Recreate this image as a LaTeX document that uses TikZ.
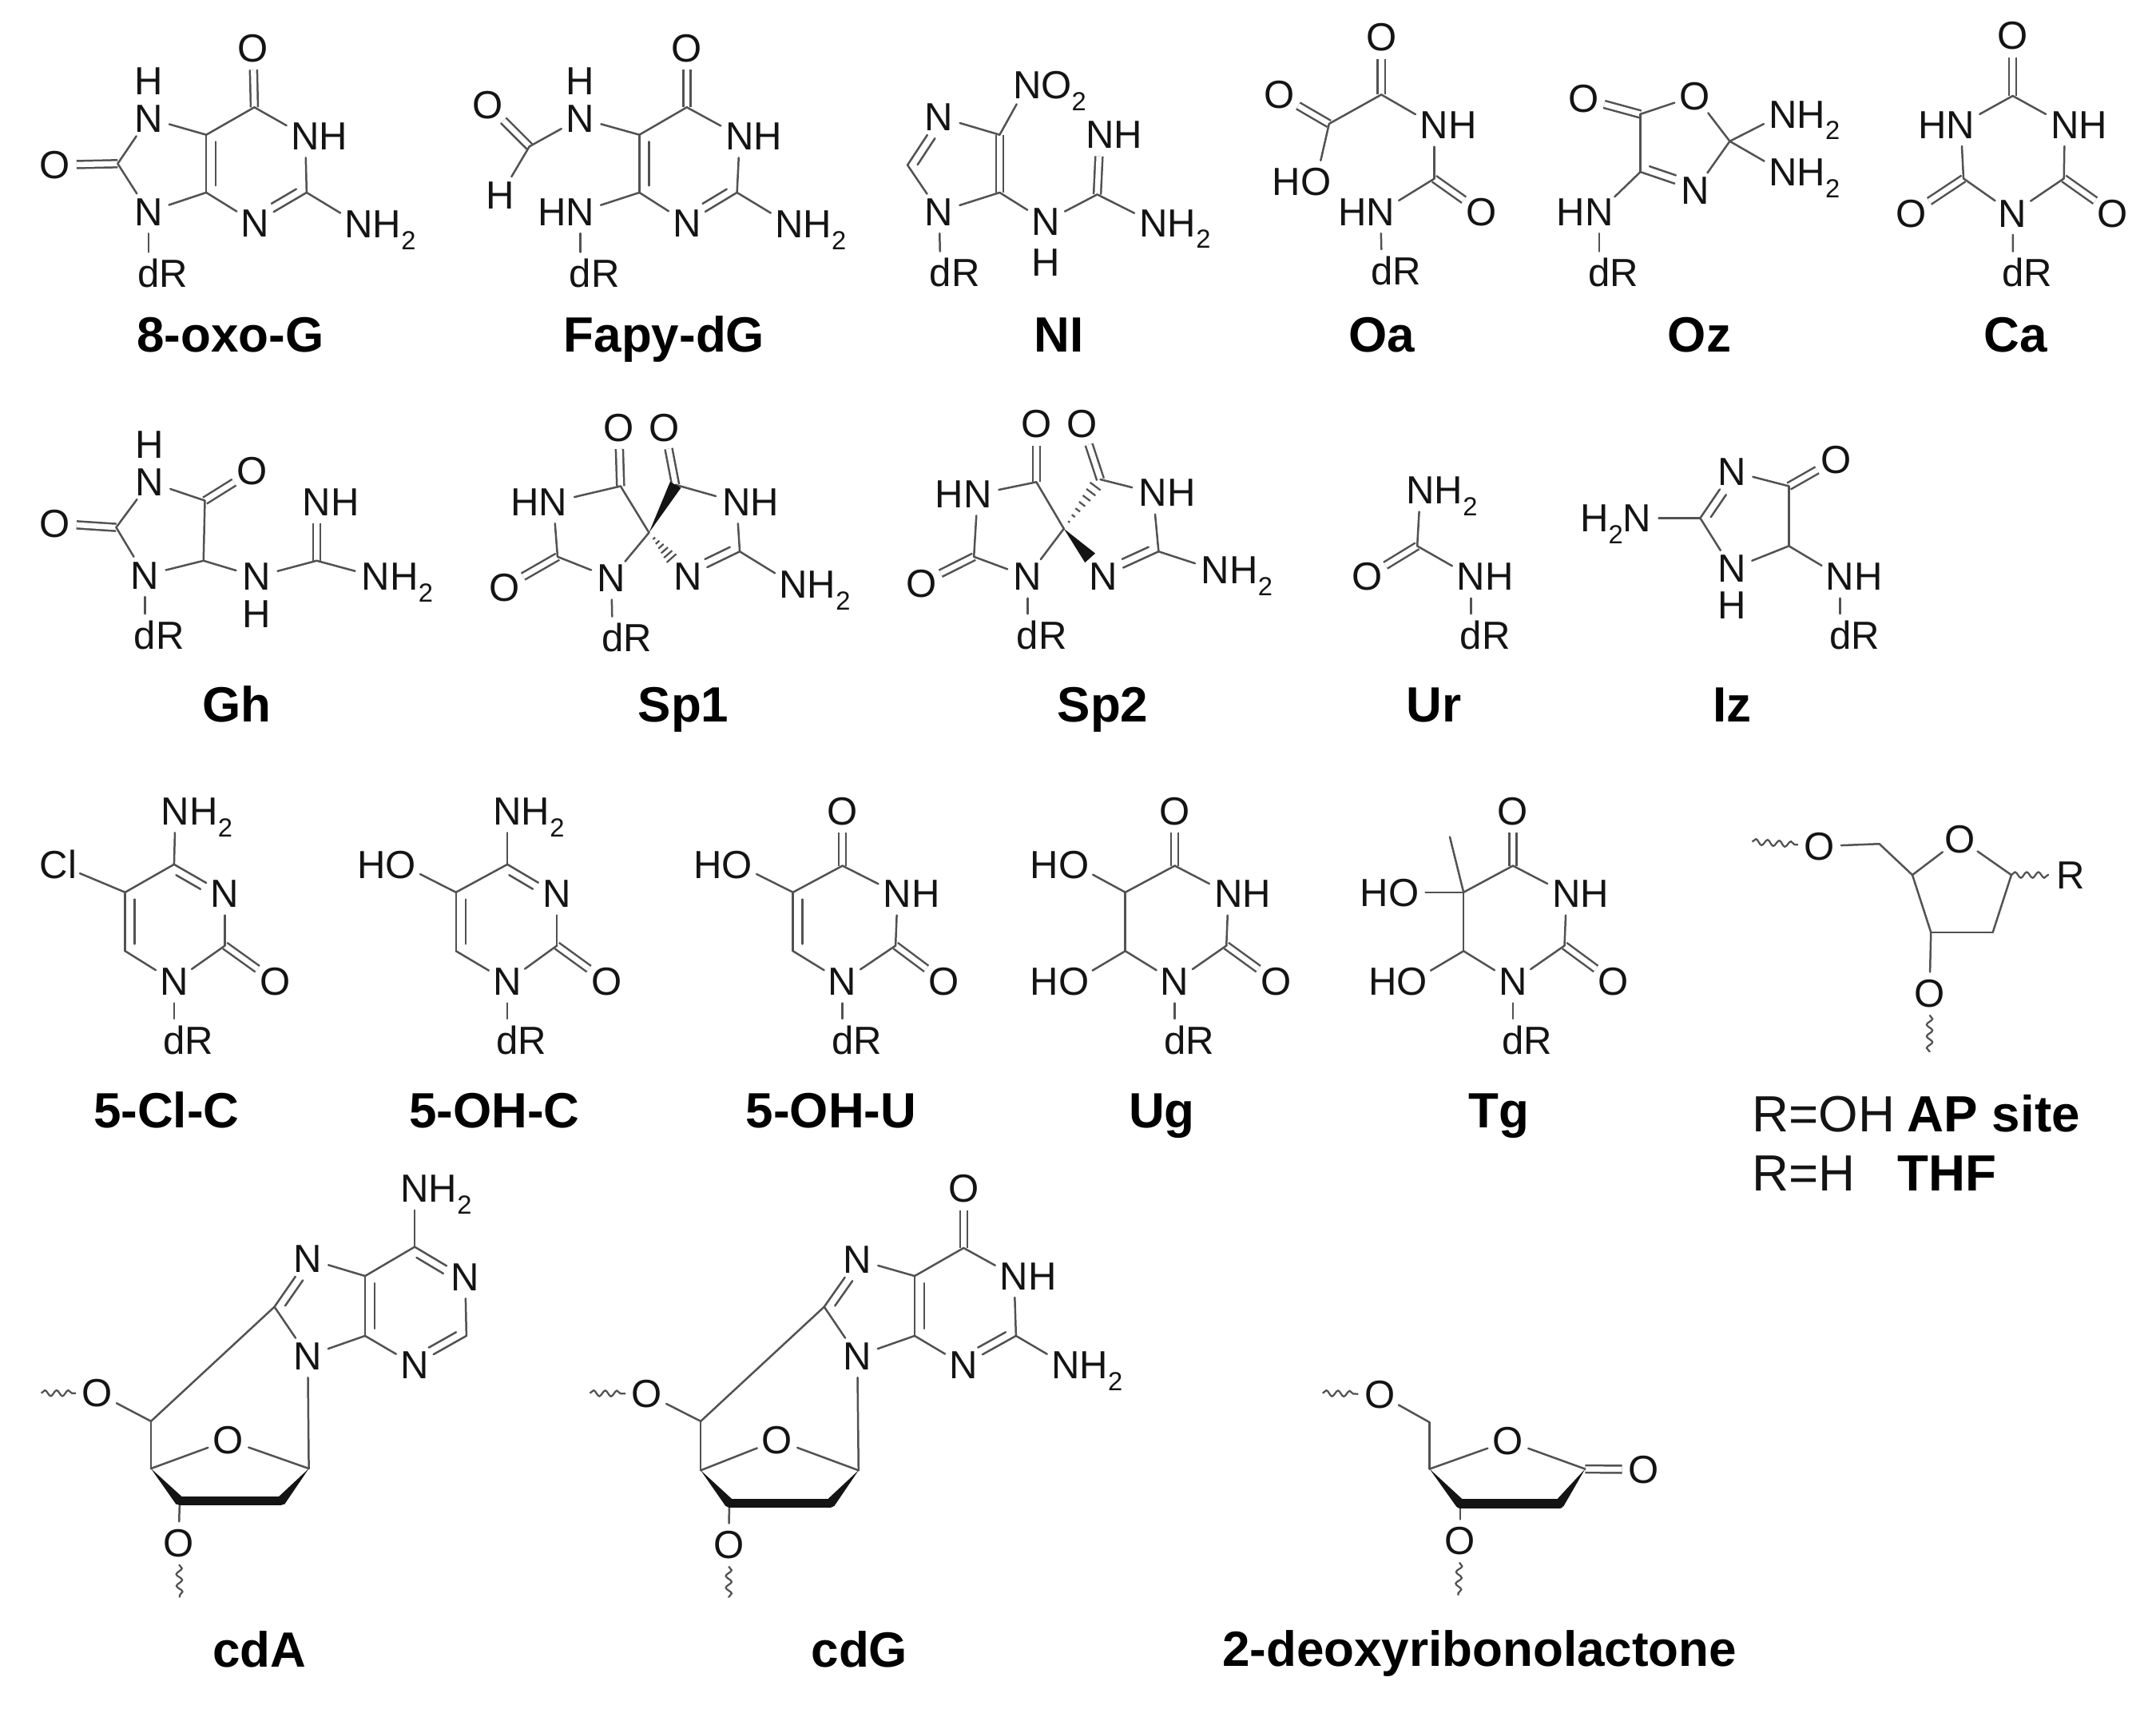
\documentclass[tikz,border=0pt]{standalone}
\usepackage{fontspec}
\setmainfont{Liberation Sans}
\usetikzlibrary{calc,decorations.pathmorphing}
\definecolor{bondcol}{gray}{0.32}
\definecolor{inkcol}{gray}{0.08}
\newcommand\subtwo{\raisebox{-.3em}{\fontsize{19}{19}\selectfont 2}}
\newcommand\atm[4]{\node[atom] (#1) at (#2,#3) {#4};}
\newcommand\car[3]{\coordinate (#1) at (#2,#3);}
\newcommand\bnd[1]{\foreach \pp/\qq in {#1} {\draw[bond] (\pp) -- (\qq);}}
\newcommand\dbl[1]{\foreach \pp/\qq in {#1} {\draw[dblbond] (\pp) -- (\qq);}}
\newcommand\inn[5]{\draw[bond] ($(#1)!#4!(#2)!#3!90:(#2)$) -- ($(#2)!#5!(#1)!#3!-90:(#1)$);}
\newcommand\wdg[3]{\fill[inkcol] (#1) -- ($(#2)!#3!90:(#1)$) -- ($(#2)!#3!-90:(#1)$) -- cycle;}
\newcommand\hsh[4]{\foreach \hh in {#4} {\draw[hashbond] ($(#1)!\hh!(#2)!\hh*#3!90:(#2)$) -- ($(#1)!\hh!(#2)!\hh*#3!-90:(#2)$);}}
\newcommand\lab[4]{\node[namelabel] (#1) at (#2,#3) {#4};}
\tikzset{
  atom/.style={circle,inner sep=0pt,minimum size=31pt,text height=20pt,text depth=0pt,text=inkcol,font=\fontsize{28.5}{30}\selectfont},
  bond/.style={draw=bondcol,line width=1.45pt,line cap=round},
  dblbond/.style={draw=bondcol,line width=1.45pt,double=white,double distance=3.8pt,line cap=butt},
  hashbond/.style={draw=bondcol,line width=1.3pt},
  fatbond/.style={draw=inkcol,line width=6.5pt,line cap=round},
  wave/.style={draw=bondcol,line width=1.3pt,decorate,decoration={snake,amplitude=2.1pt,segment length=8.5pt}},
  namelabel/.style={anchor=base,inner sep=0pt,text=black,font=\fontsize{36}{38}\selectfont\bfseries},
  plainlabel/.style={anchor=base west,inner sep=0pt,text=inkcol,font=\fontsize{37}{39}\selectfont},
  boldlabel/.style={anchor=base west,inner sep=0pt,text=black,font=\fontsize{37}{39}\selectfont\bfseries},
}
\begin{document}
\begin{tikzpicture}[x=1pt,y=-1pt]
\useasboundingbox (0,0) rectangle (1568,1251);
% ---------- 8-oxo-G
\begin{scope}[name prefix=ox-]
\car{c6}{185}{78}\car{c2}{223}{140}\car{c4}{150}{140}\car{c5}{150}{98}\car{c8}{85.6}{119}
\atm{o6}{184}{35}{O}\atm{n1}{222}{99}{N\rlap{H}}\atm{n3}{185.5}{162}{N}\atm{n7}{108}{86}{N}\atm{h7}{108}{59}{H}
\atm{o8}{40}{120}{O}\atm{n9}{108}{154}{N}\atm{am}{261}{163}{N\rlap{H\subtwo}}\atm{dr}{108}{199}{d\rlap{R}}
\dbl{c6/o6,c8/o8}
\bnd{c6/n1,n1/c2,c2/n3,n3/c4,c4/c5,c5/c6,c5/n7,n7/c8,c8/n9,n9/c4,c2/am,n9/dr}
\inn{c5}{c4}{7pt}{.12}{.12}\inn{c2}{n3}{-6pt}{.12}{.4}
\lab{nm}{167.5}{256}{8-oxo-G}
\end{scope}
% ---------- Fapy-dG
\begin{scope}[name prefix=fa-]
\car{c6}{499.5}{78}\car{c2}{536}{140}\car{c4}{465}{140}\car{c5}{465}{98}\car{cf}{385}{106.5}
\atm{o6}{499.5}{35}{O}\atm{n1}{538}{99}{N\rlap{H}}\atm{n3}{499.5}{162}{N}\atm{n7}{422}{86}{N}\atm{h7}{422}{59}{H}
\atm{of}{355}{76.5}{O}\atm{hf}{364}{142}{H}\atm{n9}{422}{154}{\llap{H}N}\atm{am}{574}{163}{N\rlap{H\subtwo}}\atm{dr}{422}{199}{d\rlap{R}}
\dbl{c6/o6,cf/of}
\bnd{c6/n1,n1/c2,c2/n3,n3/c4,c4/c5,c5/c6,c5/n7,n7/cf,cf/hf,c4/n9,c2/am,n9/dr}
\inn{c5}{c4}{7pt}{.12}{.12}\inn{c2}{n3}{-6pt}{.12}{.4}
\lab{nm}{483}{256}{Fapy-dG}
\end{scope}
% ---------- NI
\begin{scope}[name prefix=ni-]
\car{ch}{660}{120}\car{c5}{727}{98}\car{c4}{727}{140}\car{cg}{798}{141.4}
\atm{n3}{683}{85}{N}\atm{no}{747}{62}{N\rlap{O\subtwo}}\atm{n1}{683}{154}{N}\atm{nh}{760.5}{161}{N}\atm{h}{760.5}{191}{H}
\atm{im}{800}{98}{N\rlap{H}}\atm{am}{839}{162}{N\rlap{H\subtwo}}\atm{dr}{684}{198.5}{d\rlap{R}}
\dbl{c5/c4,cg/im}
\bnd{ch/n3,n3/c5,c5/no,c4/n1,n1/ch,c4/nh,nh/cg,cg/am,n1/dr}
\inn{ch}{n3}{-6pt}{.1}{.35}
\lab{nm}{770}{256}{NI}
\end{scope}
% ---------- Oa
\begin{scope}[name prefix=oa-]
\car{c1}{1004.6}{68.8}\car{c2}{966.6}{90}\car{c3}{1043}{130}
\atm{o1}{1004.6}{27}{O}\atm{o2}{930.5}{69}{O}\atm{oh}{957}{132}{\llap{H}O}\atm{nh}{1043}{91}{N\rlap{H}}
\atm{o3}{1077.5}{154.4}{O}\atm{hn}{1004}{154}{\llap{H}N}\atm{dr}{1005}{197}{d\rlap{R}}
\dbl{c1/o1,c2/o2,c3/o3}
\bnd{c1/c2,c2/oh,c1/nh,nh/c3,c3/hn,hn/dr}
\lab{nm}{1005}{256}{Oa}
\end{scope}
% ---------- Oz
\begin{scope}[name prefix=oz-]
\car{c1}{1193}{83}\car{c2}{1258}{102.7}\car{c3}{1193}{125}
\atm{o1}{1151.5}{71.7}{O}\atm{o2}{1232.7}{69.7}{O}\atm{a1}{1296.7}{83}{N\rlap{H\subtwo}}\atm{a2}{1296.7}{125}{N\rlap{H\subtwo}}
\atm{n}{1232.7}{138.5}{N}\atm{hn}{1163}{154}{\llap{H}N}\atm{dr}{1163}{198.5}{d\rlap{R}}
\dbl{c1/o1}
\bnd{c1/o2,o2/c2,c2/n,n/c3,c3/c1,c2/a1,c2/a2,c3/hn,hn/dr}
\inn{c3}{n}{6pt}{.12}{.4}
\lab{nm}{1236}{256}{Oz}
\end{scope}
% ---------- Ca
\begin{scope}[name prefix=ca-]
\car{c1}{1463.8}{69.7}\car{c2}{1428}{129.8}\car{c3}{1501}{129.8}
\atm{o1}{1463.8}{26}{O}\atm{hn}{1426}{90.6}{\llap{H}N}\atm{nh}{1501.6}{90.6}{N\rlap{H}}\atm{n}{1463.8}{155}{N}
\atm{o2}{1390}{155}{O}\atm{o3}{1536.6}{155}{O}\atm{dr}{1464}{198.5}{d\rlap{R}}
\dbl{c1/o1,c2/o2,c3/o3}
\bnd{c1/hn,c1/nh,hn/c2,nh/c3,c2/n,c3/n,n/dr}
\lab{nm}{1466}{256}{Ca}
\end{scope}
% ---------- Gh
\begin{scope}[name prefix=gh-]
\car{c4}{149}{364}\car{c2}{84.5}{383.5}\car{c5}{148}{407.7}\car{cg}{230.3}{407.7}
\atm{h3}{109}{323.4}{H}\atm{n3}{109}{350.5}{N}\atm{o4}{183.6}{342.4}{O}\atm{o2}{40}{380.6}{O}\atm{n1}{105.4}{418.3}{N}
\atm{dr}{105.4}{462}{d\rlap{R}}\atm{nh}{186.7}{419.3}{N}\atm{h}{186.7}{446.4}{H}\atm{im}{230.3}{365}{N\rlap{H}}\atm{am}{273.4}{419.3}{N\rlap{H\subtwo}}
\dbl{c4/o4,c2/o2,cg/im}
\bnd{n3/c4,n3/c2,c2/n1,n1/c5,c5/c4,n1/dr,c5/nh,nh/cg,cg/am}
\lab{nm}{172}{525}{Gh}
\end{scope}
% ---------- Sp1
\begin{scope}[name prefix=sa-]
\car{c4}{451.3}{353.5}\car{cp}{491.3}{352.5}\car{s}{472}{387.3}\car{c2}{405.5}{404.8}\car{cq}{538}{401}
\atm{o1}{450}{310.8}{O}\atm{o2}{483.3}{310.8}{O}\atm{hn}{402.4}{365}{\llap{H}N}\atm{nh}{535.7}{365}{N\rlap{H}}
\atm{o3}{366.8}{427}{O}\atm{n1}{444.6}{420.3}{N}\atm{np}{500.2}{419.3}{N}\atm{am}{577}{425}{N\rlap{H\subtwo}}\atm{dr}{445.5}{464}{d\rlap{R}}
\dbl{c4/o1,cp/o2,c2/o3}
\bnd{hn/c4,c4/s,hn/c2,c2/n1,n1/s,cp/nh,nh/cq,cq/np,cq/am,n1/dr}
\inn{cq}{np}{-6pt}{.12}{.4}
\wdg{s}{cp}{4.5pt}
\hsh{s}{np}{8pt}{.13,.22,.31,.40,.49,.58}
\lab{nm}{497}{525}{Sp1}
\end{scope}
% ---------- Sp2
\begin{scope}[name prefix=sb-]
\car{c4}{753.7}{350.5}\car{cp}{800.3}{348.6}\car{s}{773.7}{384.4}\car{c2}{708.3}{404.8}\car{cq}{842.6}{401}\car{tip}{792.8}{405.7}
\atm{o1}{753.7}{308.3}{O}\atm{o2}{787}{308.3}{O}\atm{hn}{711}{359.3}{\llap{H}N}\atm{nh}{838.6}{358.3}{N\rlap{H}}
\atm{o3}{670}{424}{O}\atm{n1}{747.4}{419.3}{N}\atm{np}{802.6}{419.3}{N}\atm{am}{884}{414.5}{N\rlap{H\subtwo}}\atm{dr}{747.4}{462}{d\rlap{R}}
\dbl{c4/o1,cp/o2,c2/o3}
\bnd{hn/c4,c4/s,hn/c2,c2/n1,n1/s,cp/nh,nh/cq,cq/np,cq/am,n1/dr}
\inn{cq}{np}{-6pt}{.12}{.4}
\wdg{s}{tip}{5pt}
\hsh{s}{cp}{5.5pt}{.14,.26,.38,.5,.62,.74,.86}
\lab{nm}{802}{525}{Sp2}
\end{scope}
% ---------- Ur
\begin{scope}[name prefix=ur-]
\car{c}{1030.7}{397}
\atm{am}{1033}{356.4}{N\rlap{H\subtwo}}\atm{o}{994.2}{419.3}{O}\atm{nh}{1069.8}{419.3}{N\rlap{H}}\atm{dr}{1069.8}{462}{d\rlap{R}}
\dbl{c/o}
\bnd{c/am,c/nh,nh/dr}
\lab{nm}{1043}{525}{Ur}
\end{scope}
% ---------- Iz
\begin{scope}[name prefix=iz-]
\car{c4}{1301}{353.5}\car{c2}{1236.5}{376.7}\car{c5}{1301}{397}
\atm{n3}{1259.6}{342.8}{N}\atm{o}{1335.2}{334}{O}\atm{am}{1190.7}{376.7}{\llap{H\subtwo}N}\atm{n1}{1259.6}{413.5}{N}\atm{h}{1259.6}{439.7}{H}
\atm{nh}{1338.3}{419.3}{N\rlap{H}}\atm{dr}{1338.3}{462}{d\rlap{R}}
\dbl{c4/o}
\bnd{c2/n3,n3/c4,c4/c5,c5/n1,n1/c2,c2/am,c5/nh,nh/dr}
\inn{c2}{n3}{-6pt}{.12}{.4}
\lab{nm}{1260}{525}{Iz}
\end{scope}
% ---------- 5-Cl-C
\begin{scope}[name prefix=cl-]
\car{c4}{126.6}{628.5}\car{c5}{91}{648.8}\car{c6}{91}{691.5}\car{c2}{163.6}{687.6}
\atm{am}{127.6}{589.8}{N\rlap{H\subtwo}}\atm{x}{42.5}{628.5}{Cl}\atm{n3}{163.6}{649.8}{N}\atm{n1}{126.6}{713.7}{N}\atm{o}{200}{713.7}{O}\atm{dr}{126.6}{756.4}{d\rlap{R}}
\dbl{c2/o}
\bnd{c4/am,c4/c5,c5/x,c5/c6,c6/n1,n1/c2,c2/n3,n3/c4,n1/dr}
\inn{c5}{c6}{7pt}{.12}{.12}\inn{c4}{n3}{-6pt}{.12}{.4}
\lab{nm}{121}{820}{5-Cl-C}
\end{scope}
% ---------- 5-OH-C
\begin{scope}[name prefix=hc-]
\car{c4}{369}{628.5}\car{c5}{331.6}{648.8}\car{c6}{331.6}{691.5}\car{c2}{405}{687.6}
\atm{am}{369}{589.8}{N\rlap{H\subtwo}}\atm{x}{291.6}{628.5}{\llap{H}O}\atm{n3}{405}{649.8}{N}\atm{n1}{369}{713.7}{N}\atm{o}{441}{713.7}{O}\atm{dr}{369}{756.4}{d\rlap{R}}
\dbl{c2/o}
\bnd{c4/am,c4/c5,c5/x,c5/c6,c6/n1,n1/c2,c2/n3,n3/c4,n1/dr}
\inn{c5}{c6}{7pt}{.12}{.12}\inn{c4}{n3}{-6pt}{.12}{.4}
\lab{nm}{359.6}{820}{5-OH-C}
\end{scope}
% ---------- 5-OH-U
\begin{scope}[name prefix=hu-]
\car{c4}{612.7}{629.5}\car{c5}{576.7}{648.8}\car{c6}{576.7}{691.5}\car{c2}{651.3}{687.6}
\atm{o4}{612.7}{589.8}{O}\atm{x}{536.2}{628.5}{\llap{H}O}\atm{n3}{652.8}{649.8}{N\rlap{H}}\atm{n1}{612.7}{713.7}{N}\atm{o}{686.3}{713.7}{O}\atm{dr}{612.7}{756.4}{d\rlap{R}}
\dbl{c4/o4,c2/o}
\bnd{c4/c5,c5/x,c5/c6,c6/n1,n1/c2,c2/n3,n3/c4,n1/dr}
\inn{c5}{c6}{7pt}{.12}{.12}
\lab{nm}{604.5}{820}{5-OH-U}
\end{scope}
% ---------- Ug
\begin{scope}[name prefix=ug-]
\car{c4}{854.4}{629.5}\car{c5}{818.4}{648.8}\car{c6}{818.4}{691.5}\car{c2}{891.9}{687.6}
\atm{o4}{854.4}{589.8}{O}\atm{x}{781}{628.5}{\llap{H}O}\atm{y}{781}{713.7}{\llap{H}O}\atm{n3}{893.4}{649.8}{N\rlap{H}}\atm{n1}{854.4}{713.7}{N}\atm{o}{927.9}{713.7}{O}\atm{dr}{854.4}{756.4}{d\rlap{R}}
\dbl{c4/o4,c2/o}
\bnd{c4/c5,c5/x,c5/c6,c6/y,c6/n1,n1/c2,c2/n3,n3/c4,n1/dr}
\lab{nm}{845}{820}{Ug}
\end{scope}
% ---------- Tg
\begin{scope}[name prefix=tg-]
\car{c4}{1100.3}{629.5}\car{c5}{1064.4}{648.8}\car{c6}{1064.4}{691.5}\car{c2}{1137.8}{687.6}\car{me}{1054.4}{608.5}
\atm{o4}{1100.3}{589.8}{O}\atm{x}{1021}{648.8}{\llap{H}O}\atm{y}{1027}{713.7}{\llap{H}O}\atm{n3}{1139.3}{649.8}{N\rlap{H}}\atm{n1}{1100.3}{713.7}{N}\atm{o}{1173.3}{713.7}{O}\atm{dr}{1100.3}{756.4}{d\rlap{R}}
\dbl{c4/o4,c2/o}
\bnd{c4/c5,c5/x,c5/me,c5/c6,c6/y,c6/n1,n1/c2,c2/n3,n3/c4,n1/dr}
\lab{nm}{1090}{820}{Tg}
\end{scope}
% ---------- AP site / THF
\begin{scope}[name prefix=ap-]
\car{c5}{1366.8}{613.6}\car{c4}{1390.8}{636.2}\car{c1}{1462.8}{636.2}\car{c2}{1449.3}{677.9}\car{c3}{1404.3}{677.9}
\car{w1}{1274.3}{612}\car{w2}{1403.3}{765}
\atm{o5}{1323.3}{615.3}{O}\atm{o}{1425.3}{610}{O}\atm{r}{1505.8}{636.2}{R}\atm{o3}{1403.3}{722.4}{O}
\bnd{o5/c5,c5/c4,c4/o,o/c1,c1/c2,c2/c3,c3/c4,c3/o3}
\draw[wave] (w1) -- (o5);
\draw[wave] (c1) -- (r);
\draw[wave] (o3) -- (w2);
\node[plainlabel] (ra) at (1274,823) {R=OH};
\node[boldlabel] (rb) at (1387,823) {AP site};
\node[plainlabel] (rc) at (1274,866) {R=H};
\node[boldlabel] (rd) at (1380,866) {THF};
\end{scope}
% ---------- cdA
\begin{scope}[name prefix=da-]
\car{c6}{301.6}{906.6}\car{c2}{339.2}{971.3}\car{c4}{265.5}{971.3}\car{c5}{265.5}{927.8}\car{c8}{199.6}{950.2}
\car{q1}{224.6}{1067.8}\car{q4}{109.8}{1067.8}\car{q5}{109.8}{1033.4}\car{q3}{130.7}{1091.5}\car{q2}{204.3}{1091.5}\car{w1}{30}{1013}\car{w2}{130.7}{1161.6}
\atm{am}{301.6}{864.3}{N\rlap{H\subtwo}}\atm{n1}{338.3}{928.5}{N}\atm{n3}{301.6}{992.5}{N}\atm{n7}{223.8}{915.3}{N}\atm{n9}{223.8}{985.9}{N}
\atm{o}{166}{1047.2}{O}\atm{o5}{70.9}{1013}{O}\atm{o3}{129.8}{1122}{O}
\bnd{c6/am,c6/n1,n1/c2,c2/n3,n3/c4,c4/c5,c5/c6,c5/n7,n7/c8,c8/n9,n9/c4,c8/q5,n9/q1,q1/o,o/q4,q4/q5,q5/o5,q3/o3}
\inn{c5}{c4}{7pt}{.12}{.12}\inn{c8}{n7}{-6pt}{.12}{.35}\inn{c6}{n1}{-6pt}{.12}{.35}\inn{c2}{n3}{-6pt}{.12}{.35}
\draw[fatbond] (q3) -- (q2);
\wdg{q4}{q3}{3.5pt}\wdg{q1}{q2}{3.5pt}
\draw[wave] (w1) -- (o5);
\draw[wave] (o3) -- (w2);
\lab{nm}{188.6}{1212}{cdA}
\end{scope}
% ---------- cdG
\begin{scope}[name prefix=dg-]
\car{c6}{700.8}{907.4}\car{c2}{738.9}{971.3}\car{c4}{665.2}{971.3}\car{c5}{665.2}{927.8}\car{c8}{599.4}{950.2}
\car{q1}{624.4}{1069.1}\car{q4}{509.6}{1069.1}\car{q5}{509.6}{1033.4}\car{q3}{530.4}{1092.9}\car{q2}{604}{1092.9}\car{w1}{429}{1013}\car{w2}{530}{1161.6}
\atm{o6}{700.8}{864.3}{O}\atm{n1}{737.5}{927.7}{N\rlap{H}}\atm{am}{775}{992.5}{N\rlap{H\subtwo}}\atm{n3}{700.8}{992.5}{N}\atm{n7}{623.5}{915.9}{N}\atm{n9}{623.5}{985.9}{N}
\atm{o}{565.2}{1047.2}{O}\atm{o5}{470.6}{1013.6}{O}\atm{o3}{529.9}{1123.3}{O}
\dbl{c6/o6}
\bnd{c6/n1,n1/c2,c2/am,c2/n3,n3/c4,c4/c5,c5/c6,c5/n7,n7/c8,c8/n9,n9/c4,c8/q5,n9/q1,q1/o,o/q4,q4/q5,q5/o5,q3/o3}
\inn{c5}{c4}{7pt}{.12}{.12}\inn{c8}{n7}{-6pt}{.12}{.35}\inn{c2}{n3}{-6pt}{.12}{.35}
\draw[fatbond] (q3) -- (q2);
\wdg{q4}{q3}{3.5pt}\wdg{q1}{q2}{3.5pt}
\draw[wave] (w1) -- (o5);
\draw[wave] (o3) -- (w2);
\lab{nm}{625}{1212}{cdG}
\end{scope}
% ---------- 2-deoxyribonolactone
\begin{scope}[name prefix=lc-]
\car{q5}{1039.7}{1034.2}\car{q4}{1039.7}{1068.1}\car{q1}{1152.8}{1068.1}\car{q3}{1061.9}{1093.3}\car{q2}{1134.2}{1093.3}\car{w1}{961.9}{1013}\car{w2}{1060.5}{1160}
\atm{o5}{1003.5}{1013.9}{O}\atm{o}{1096.7}{1047.8}{O}\atm{ox}{1195.4}{1068.5}{O}\atm{o3}{1061.9}{1120.4}{O}
\dbl{q1/ox}
\bnd{o5/q5,q5/q4,q4/o,o/q1,q3/o3}
\draw[fatbond] (q3) -- (q2);
\wdg{q4}{q3}{3.5pt}\wdg{q1}{q2}{3.5pt}
\draw[wave] (w1) -- (o5);
\draw[wave] (o3) -- (w2);
\lab{nm}{1076}{1211.5}{2-deoxyribonolactone}
\end{scope}
\end{tikzpicture}
\end{document}
